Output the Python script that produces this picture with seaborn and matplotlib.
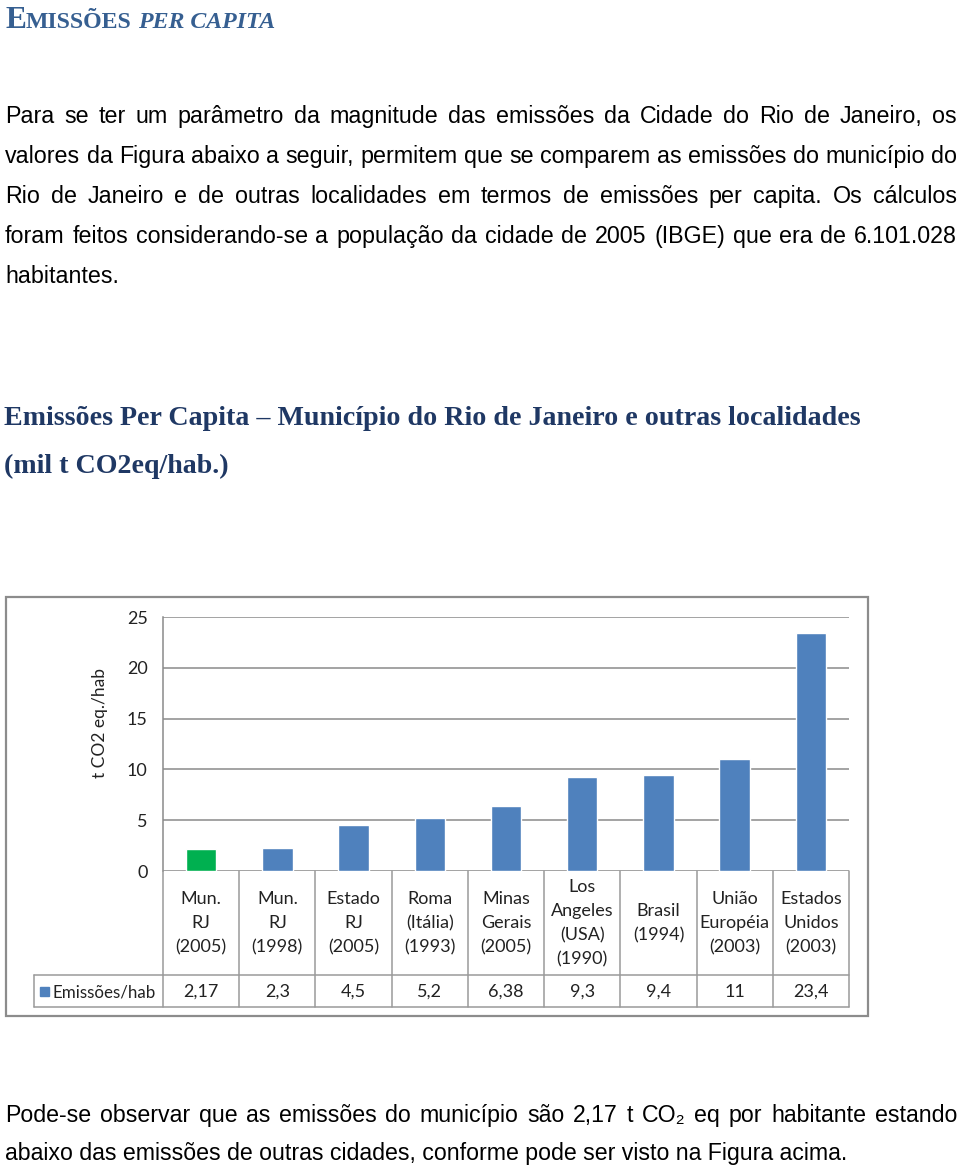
import matplotlib
matplotlib.use("Agg")
import matplotlib.pyplot as plt
import matplotlib.patches as mpatches
import matplotlib.transforms as mtrans
import seaborn as sns

# ---------------- data ----------------
categories = ["Mun.\nRJ\n(2005)", "Mun.\nRJ\n(1998)", "Estado\nRJ\n(2005)",
              "Roma\n(Itália)\n(1993)", "Minas\nGerais\n(2005)",
              "Los\nAngeles\n(USA)\n(1990)", "Brasil\n(1994)",
              "União\nEuropéia\n(2003)", "Estados\nUnidos\n(2003)"]
values = [2.17, 2.3, 4.5, 5.2, 6.38, 9.3, 9.4, 11, 23.4]
value_labels = ["2,17", "2,3", "4,5", "5,2", "6,38", "9,3", "9,4", "11", "23,4"]
series_name = "Emissões/hab"
y_ticks = [0, 5, 10, 15, 20, 25]
y_label = "t CO2 eq./hab"

heading_parts = ["E", "MISSÕES", "PER CAPITA"]
body_lines = [
    "Para se ter um parâmetro da magnitude das emissões da Cidade do Rio de Janeiro, os",
    "valores da Figura abaixo a seguir, permitem que se comparem as emissões do município do",
    "Rio de Janeiro e de outras localidades em termos de emissões per capita. Os cálculos",
    "foram feitos considerando-se a população da cidade de 2005 (IBGE) que era de 6.101.028",
    "habitantes.",
]
chart_title = ["Emissões Per Capita – Município do Rio de Janeiro e outras localidades",
               "(mil t CO2eq/hab.)"]
footer_lines = [
    "Pode-se observar que as emissões do município são 2,17 t CO₂ eq por habitante estando",
    "abaixo das emissões de outras cidades, conforme pode ser visto na Figura acima.",
]

BLUE = "#4F81BD"
GREEN = "#00B050"
bar_colors = [GREEN] + [BLUE] * (len(values) - 1)

# ---------------- figure ----------------
sns.set_theme(style="white")
W, H = 960, 1168
fig = plt.figure(figsize=(W / 100, H / 100), dpi=100)
fig.patch.set_facecolor("white")
renderer = fig.canvas.get_renderer()


def fy(ypx):
    return 1 - ypx / H


def measure(s, **kw):
    t = fig.text(0, 0, s, **kw)
    w = t.get_window_extent(renderer).width
    t.remove()
    return w


def fit_size(s, target, **kw):
    return 10 * target / measure(s, fontsize=10, **kw)


def justify(line, ybase, left, right, **kw):
    words = line.split(" ")
    texts = [fig.text(0, fy(ybase), w, va="baseline", ha="left", **kw) for w in words]
    widths = [t.get_window_extent(renderer).width for t in texts]
    gap = (right - left - sum(widths)) / (len(words) - 1)
    x = left
    for t, w in zip(texts, widths):
        t.set_x(x / W)
        x += w + gap


# ---- heading (small caps) ----
HCOL = "#365F91"
hkw = dict(family="Liberation Serif", fontweight="bold", color=HCOL)
big, small = 1.0, 0.76
w_e = measure(heading_parts[0], fontsize=10 * big, **hkw)
w_m = measure(heading_parts[1], fontsize=10 * small, **hkw)
w_p = measure(heading_parts[2], fontsize=10 * small, style="italic", **hkw)
w_sp = measure("M", fontsize=10 * small, **hkw) * 0.3
scale = 269 / (w_e + w_m + w_p + w_sp)
fs = 10 * scale
x = 5
fig.text(x / W, fy(28), heading_parts[0], fontsize=fs * big, va="baseline", **hkw)
x += w_e * scale
fig.text(x / W, fy(28), heading_parts[1], fontsize=fs * small, va="baseline", **hkw)
x += w_m * scale + w_sp * scale
fig.text(x / W, fy(28), heading_parts[2], fontsize=fs * small, style="italic",
         va="baseline", **hkw)

# ---- body text ----
bkw = dict(family=["Liberation Sans", "DejaVu Sans"], color="black")
body_fs = fit_size(body_lines[1], 952, **bkw)
for i, line in enumerate(body_lines):
    yb = 123 + 40 * i
    if i < len(body_lines) - 1:
        justify(line, yb, 5, 957, fontsize=body_fs, **bkw)
    else:
        fig.text(5 / W, fy(yb), line, fontsize=body_fs, va="baseline", **bkw)

# ---- chart title ----
tkw = dict(family="Liberation Serif", fontweight="bold", color="#1F3864")
title_fs = fit_size(chart_title[0], 857, **tkw)
fig.text(4 / W, fy(425), chart_title[0], fontsize=title_fs, va="baseline", **tkw)
fig.text(4 / W, fy(473), chart_title[1], fontsize=title_fs, va="baseline", **tkw)

# ---- footer ----
foot_fs = fit_size(footer_lines[1], 846, **bkw)
justify(footer_lines[0], 1122, 5, 957, fontsize=foot_fs, **bkw)
fig.text(5 / W, fy(1160), footer_lines[1], fontsize=foot_fs, va="baseline", **bkw)

# ---------------- chart ----------------
ax_l, ax_r, ax_t, ax_b = 163, 849, 617, 871
ax = fig.add_axes([ax_l / W, fy(ax_b), (ax_r - ax_l) / W, (ax_b - ax_t) / H])
ax.set_facecolor("white")
sns.barplot(x=list(range(len(values))), y=values, hue=list(range(len(values))),
            palette=bar_colors, width=0.4, saturation=1, legend=False, ax=ax)
ax.set_xlim(-0.5, len(values) - 0.5)
ax.set_ylim(0, 25)
ax.set_yticks(y_ticks)
ax.set_yticklabels([str(v) for v in y_ticks], family="Lato", fontsize=13, color="#222222")
ax.tick_params(axis="y", length=0, pad=11)
ax.set_xticks([])
ax.set_xlabel("")
ax.set_ylabel("")
ax.yaxis.grid(True, color="#8a8a8a", lw=1.1)
ax.set_axisbelow(True)
for s in ["top", "right", "bottom"]:
    ax.spines[s].set_visible(False)
ax.spines["left"].set_color("#8a8a8a")
ax.spines["left"].set_linewidth(1.1)

fig.text(100 / W, fy(723), y_label, rotation=90, ha="center", va="center",
         family="Lato", fontsize=12.5, color="#222222")

# ---- data table under the axis ----
tr = mtrans.blended_transform_factory(ax.transData, fig.transFigure)
LC = "#9a9a9a"
row_mid, row_bot = 975, 1007
n = len(values)
for k in range(n + 1):
    xk = k - 0.5
    fig.add_artist(plt.Line2D([xk, xk], [fy(ax_b), fy(row_bot)], transform=tr,
                              color=LC, lw=1.1))
fig.add_artist(plt.Line2D([-0.5, n - 0.5], [fy(row_mid), fy(row_mid)], transform=tr,
                          color=LC, lw=1.1))
fig.add_artist(plt.Line2D([34 / W, ax_r / W], [fy(row_bot), fy(row_bot)],
                          transform=fig.transFigure, color=LC, lw=1.1))
fig.add_artist(plt.Line2D([34 / W, ax_l / W], [fy(row_mid), fy(row_mid)],
                          transform=fig.transFigure, color=LC, lw=1.1))
fig.add_artist(plt.Line2D([34 / W, 34 / W], [fy(row_mid), fy(row_bot)],
                          transform=fig.transFigure, color=LC, lw=1.1))

for i, (cat, vl) in enumerate(zip(categories, value_labels)):
    fig.text(i, fy((ax_b + row_mid) / 2), cat, transform=tr, ha="center", va="center",
             multialignment="center", family="Lato", fontsize=13, linespacing=1.62,
             color="#222222")
    fig.text(i, fy((row_mid + row_bot) / 2 + 1), vl, transform=tr, ha="center",
             va="center", family="Lato", fontsize=13, color="#222222")

# legend key in table
fig.add_artist(mpatches.Rectangle((40 / W, fy(996)), 9 / W, 9 / H,
                                  transform=fig.transFigure, color=BLUE))
fig.text(53 / W, fy(992), series_name, ha="left", va="center", family="Lato",
         fontsize=12.2, color="#222222")

# outer chart border
fig.add_artist(mpatches.Rectangle((6 / W, fy(1016)), (868 - 6) / W, (1016 - 597) / H,
                                  transform=fig.transFigure, fill=False,
                                  edgecolor="#8c8c8c", lw=1.6))

fig.savefig("out.png", dpi=100)
